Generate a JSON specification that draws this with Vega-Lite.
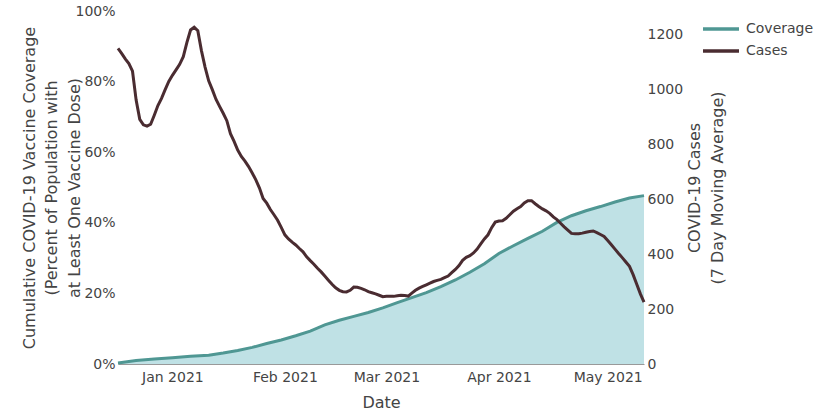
{
  "$schema": "https://vega.github.io/schema/vega-lite/v6.json",
  "autosize": "none",
  "padding": {"left": 118, "top": 11, "right": 185, "bottom": 47},
  "width": 526,
  "height": 353,
  "background": "white",
  "config": {
    "font": "DejaVu Sans",
    "view": {"stroke": null},
    "axis": {"labelColor": "#444", "titleColor": "#444", "labelFontSize": 14, "titleFontSize": 16, "titleFontWeight": "normal", "grid": false, "ticks": false, "domain": false, "labelFont": "DejaVu Sans", "titleFont": "DejaVu Sans"},
    "legend": {"labelColor": "#444", "labelFontSize": 14, "labelFont": "DejaVu Sans"}
  },
  "datasets": {
    "coverage": [
      {"date": "2020-12-17", "coverage": 0.3},
      {"date": "2020-12-22", "coverage": 1.0},
      {"date": "2020-12-27", "coverage": 1.4},
      {"date": "2021-01-01", "coverage": 1.8},
      {"date": "2021-01-06", "coverage": 2.2},
      {"date": "2021-01-11", "coverage": 2.5},
      {"date": "2021-01-15", "coverage": 3.1},
      {"date": "2021-01-19", "coverage": 3.8},
      {"date": "2021-01-23", "coverage": 4.7},
      {"date": "2021-01-27", "coverage": 5.8},
      {"date": "2021-01-31", "coverage": 6.8},
      {"date": "2021-02-04", "coverage": 8.0},
      {"date": "2021-02-08", "coverage": 9.3},
      {"date": "2021-02-12", "coverage": 11.1},
      {"date": "2021-02-16", "coverage": 12.4},
      {"date": "2021-02-20", "coverage": 13.5},
      {"date": "2021-02-24", "coverage": 14.6},
      {"date": "2021-02-28", "coverage": 15.9},
      {"date": "2021-03-04", "coverage": 17.4},
      {"date": "2021-03-08", "coverage": 18.8},
      {"date": "2021-03-12", "coverage": 20.2},
      {"date": "2021-03-16", "coverage": 21.9},
      {"date": "2021-03-20", "coverage": 23.8},
      {"date": "2021-03-24", "coverage": 26.0},
      {"date": "2021-03-28", "coverage": 28.4},
      {"date": "2021-04-01", "coverage": 31.3},
      {"date": "2021-04-05", "coverage": 33.5},
      {"date": "2021-04-09", "coverage": 35.6},
      {"date": "2021-04-13", "coverage": 37.6},
      {"date": "2021-04-17", "coverage": 40.1},
      {"date": "2021-04-21", "coverage": 42.0},
      {"date": "2021-04-25", "coverage": 43.4},
      {"date": "2021-04-29", "coverage": 44.6},
      {"date": "2021-05-03", "coverage": 45.9},
      {"date": "2021-05-07", "coverage": 47.0},
      {"date": "2021-05-11", "coverage": 47.7}
    ],
    "cases": [
      {"date": "2020-12-17", "cases": 1148},
      {"date": "2020-12-18", "cases": 1130},
      {"date": "2020-12-19", "cases": 1110},
      {"date": "2020-12-20", "cases": 1093},
      {"date": "2020-12-21", "cases": 1065},
      {"date": "2020-12-22", "cases": 960},
      {"date": "2020-12-23", "cases": 890},
      {"date": "2020-12-24", "cases": 870},
      {"date": "2020-12-25", "cases": 865},
      {"date": "2020-12-26", "cases": 872},
      {"date": "2020-12-27", "cases": 905},
      {"date": "2020-12-28", "cases": 940},
      {"date": "2020-12-29", "cases": 966},
      {"date": "2020-12-30", "cases": 998},
      {"date": "2020-12-31", "cases": 1028},
      {"date": "2021-01-01", "cases": 1050},
      {"date": "2021-01-02", "cases": 1070},
      {"date": "2021-01-03", "cases": 1090},
      {"date": "2021-01-04", "cases": 1118},
      {"date": "2021-01-05", "cases": 1170},
      {"date": "2021-01-06", "cases": 1215},
      {"date": "2021-01-07", "cases": 1225},
      {"date": "2021-01-08", "cases": 1212},
      {"date": "2021-01-09", "cases": 1140},
      {"date": "2021-01-10", "cases": 1080},
      {"date": "2021-01-11", "cases": 1030},
      {"date": "2021-01-12", "cases": 998},
      {"date": "2021-01-13", "cases": 963},
      {"date": "2021-01-14", "cases": 937},
      {"date": "2021-01-15", "cases": 912},
      {"date": "2021-01-16", "cases": 885},
      {"date": "2021-01-17", "cases": 838},
      {"date": "2021-01-18", "cases": 810},
      {"date": "2021-01-19", "cases": 778},
      {"date": "2021-01-20", "cases": 755},
      {"date": "2021-01-21", "cases": 738},
      {"date": "2021-01-22", "cases": 718},
      {"date": "2021-01-23", "cases": 695},
      {"date": "2021-01-24", "cases": 670},
      {"date": "2021-01-25", "cases": 640},
      {"date": "2021-01-26", "cases": 602},
      {"date": "2021-01-27", "cases": 585},
      {"date": "2021-01-28", "cases": 562},
      {"date": "2021-01-29", "cases": 543},
      {"date": "2021-01-30", "cases": 523},
      {"date": "2021-01-31", "cases": 497},
      {"date": "2021-02-01", "cases": 470},
      {"date": "2021-02-02", "cases": 455},
      {"date": "2021-02-03", "cases": 443},
      {"date": "2021-02-04", "cases": 433},
      {"date": "2021-02-05", "cases": 420},
      {"date": "2021-02-06", "cases": 408},
      {"date": "2021-02-07", "cases": 390},
      {"date": "2021-02-08", "cases": 376},
      {"date": "2021-02-09", "cases": 363},
      {"date": "2021-02-10", "cases": 348},
      {"date": "2021-02-11", "cases": 335},
      {"date": "2021-02-12", "cases": 320},
      {"date": "2021-02-13", "cases": 305},
      {"date": "2021-02-14", "cases": 290},
      {"date": "2021-02-15", "cases": 277},
      {"date": "2021-02-16", "cases": 268},
      {"date": "2021-02-17", "cases": 263},
      {"date": "2021-02-18", "cases": 262},
      {"date": "2021-02-19", "cases": 268},
      {"date": "2021-02-20", "cases": 280},
      {"date": "2021-02-21", "cases": 279},
      {"date": "2021-02-22", "cases": 275},
      {"date": "2021-02-23", "cases": 270},
      {"date": "2021-02-24", "cases": 263},
      {"date": "2021-02-25", "cases": 259},
      {"date": "2021-02-26", "cases": 255},
      {"date": "2021-02-27", "cases": 250},
      {"date": "2021-02-28", "cases": 245},
      {"date": "2021-03-01", "cases": 246},
      {"date": "2021-03-02", "cases": 246},
      {"date": "2021-03-03", "cases": 246},
      {"date": "2021-03-04", "cases": 248},
      {"date": "2021-03-05", "cases": 250},
      {"date": "2021-03-06", "cases": 249},
      {"date": "2021-03-07", "cases": 247},
      {"date": "2021-03-08", "cases": 258},
      {"date": "2021-03-09", "cases": 268},
      {"date": "2021-03-10", "cases": 276},
      {"date": "2021-03-11", "cases": 282},
      {"date": "2021-03-12", "cases": 288},
      {"date": "2021-03-13", "cases": 294},
      {"date": "2021-03-14", "cases": 300},
      {"date": "2021-03-15", "cases": 304},
      {"date": "2021-03-16", "cases": 308},
      {"date": "2021-03-17", "cases": 314},
      {"date": "2021-03-18", "cases": 320},
      {"date": "2021-03-19", "cases": 332},
      {"date": "2021-03-20", "cases": 344},
      {"date": "2021-03-21", "cases": 358},
      {"date": "2021-03-22", "cases": 377},
      {"date": "2021-03-23", "cases": 388},
      {"date": "2021-03-24", "cases": 394},
      {"date": "2021-03-25", "cases": 404},
      {"date": "2021-03-26", "cases": 418},
      {"date": "2021-03-27", "cases": 437},
      {"date": "2021-03-28", "cases": 455},
      {"date": "2021-03-29", "cases": 470},
      {"date": "2021-03-30", "cases": 496},
      {"date": "2021-03-31", "cases": 516},
      {"date": "2021-04-01", "cases": 520},
      {"date": "2021-04-02", "cases": 521},
      {"date": "2021-04-03", "cases": 530},
      {"date": "2021-04-04", "cases": 543},
      {"date": "2021-04-05", "cases": 556},
      {"date": "2021-04-06", "cases": 565},
      {"date": "2021-04-07", "cases": 573},
      {"date": "2021-04-08", "cases": 586},
      {"date": "2021-04-09", "cases": 594},
      {"date": "2021-04-10", "cases": 594},
      {"date": "2021-04-11", "cases": 583},
      {"date": "2021-04-12", "cases": 573},
      {"date": "2021-04-13", "cases": 564},
      {"date": "2021-04-14", "cases": 557},
      {"date": "2021-04-15", "cases": 548},
      {"date": "2021-04-16", "cases": 535},
      {"date": "2021-04-17", "cases": 525},
      {"date": "2021-04-18", "cases": 512},
      {"date": "2021-04-19", "cases": 499},
      {"date": "2021-04-20", "cases": 487},
      {"date": "2021-04-21", "cases": 475},
      {"date": "2021-04-22", "cases": 474},
      {"date": "2021-04-23", "cases": 474},
      {"date": "2021-04-24", "cases": 476},
      {"date": "2021-04-25", "cases": 479},
      {"date": "2021-04-26", "cases": 482},
      {"date": "2021-04-27", "cases": 484},
      {"date": "2021-04-28", "cases": 478},
      {"date": "2021-04-29", "cases": 471},
      {"date": "2021-04-30", "cases": 464},
      {"date": "2021-05-01", "cases": 449},
      {"date": "2021-05-02", "cases": 434},
      {"date": "2021-05-03", "cases": 418},
      {"date": "2021-05-04", "cases": 402},
      {"date": "2021-05-05", "cases": 387},
      {"date": "2021-05-06", "cases": 371},
      {"date": "2021-05-07", "cases": 355},
      {"date": "2021-05-08", "cases": 325},
      {"date": "2021-05-09", "cases": 290},
      {"date": "2021-05-10", "cases": 255},
      {"date": "2021-05-11", "cases": 225}
    ]
  },
  "layer": [
    {
      "data": {"name": "coverage"},
      "layer": [
        {
          "mark": {"type": "area", "color": "#bfe1e5", "opacity": 1},
          "encoding": {
            "x": {"field": "date", "type": "temporal", "title": "Date",
              "scale": {"type": "utc", "nice": false},
              "axis": {"labelExpr": "utcFormat(datum.value, '%b %Y')", "tickCount": "month", "domain": true, "domainColor": "#999", "domainWidth": 1, "labelPadding": 6, "titlePadding": 10, "labelFlush": false}},
            "y": {"field": "coverage", "type": "quantitative",
              "scale": {"domain": [0, 100], "nice": false},
              "axis": {"orient": "left", "values": [0, 20, 40, 60, 80, 100], "labelExpr": "datum.value + '%'", "labelPadding": 3,
                "title": ["Cumulative COVID-19 Vaccine Coverage", "(Percent of Population with", "at Least One Vaccine Dose)"],
                "titleLineHeight": 22.5, "titleBaseline": "middle", "titleAngle": 270, "titleX": -89, "titleY": 176.5}}
          }
        },
        {
          "mark": {"type": "line", "strokeWidth": 3},
          "encoding": {
            "x": {"field": "date", "type": "temporal"},
            "y": {"field": "coverage", "type": "quantitative"},
            "color": {"datum": "Coverage", "type": "nominal",
              "scale": {"domain": ["Coverage", "Cases"], "range": ["#4f9793", "#4a2c31"]},
              "legend": {"title": null, "orient": "none", "legendX": 592, "legendY": 7, "symbolType": "M-2,0L2,0", "symbolStrokeWidth": 3.5, "symbolSize": 324, "labelOffset": 14, "rowPadding": 4, "padding": 0}}
          }
        }
      ]
    },
    {
      "data": {"name": "cases"},
      "mark": {"type": "line", "strokeWidth": 3},
      "encoding": {
        "x": {"field": "date", "type": "temporal"},
        "y": {"field": "cases", "type": "quantitative",
          "scale": {"domain": [0, 1284], "nice": false},
          "axis": {"orient": "right", "values": [0, 200, 400, 600, 800, 1000, 1200], "format": "d", "labelPadding": 3,
            "title": ["COVID-19 Cases", "(7 Day Moving Average)"], "titleAngle": 270, "titleBaseline": "middle", "titleLineHeight": 23, "titleX": 50.5, "titleY": 176.5}},
        "color": {"datum": "Cases", "type": "nominal"}
      }
    }
  ],
  "resolve": {"scale": {"y": "independent"}}
}
